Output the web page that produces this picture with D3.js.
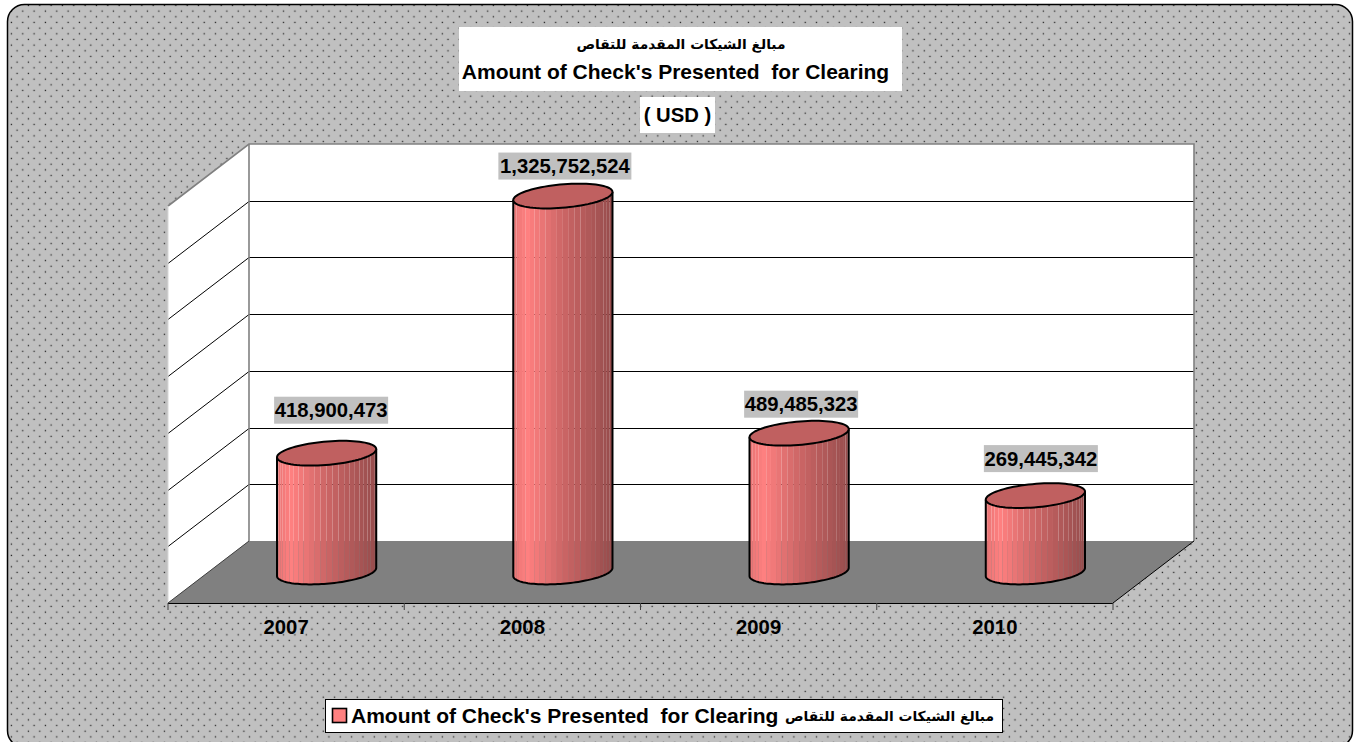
<!DOCTYPE html>
<html>
<head>
<meta charset="utf-8">
<script src="https://cdn.jsdelivr.net/npm/d3@7"></script>
<style>
html, body { margin: 0; padding: 0; background: #fff; overflow: hidden; }
svg { display: block; }
text { font-family: "Liberation Sans", Arial, sans-serif; font-weight: bold; fill: #000; }
.ar { font-family: "DejaVu Sans", sans-serif; }
</style>
</head>
<body>
<div id="chart"></div>
<script>
const years = ["2007", "2008", "2009", "2010"];
const amounts = [418900473, 1325752524, 489485323, 269445342];
const yTicks = [0, 200000000, 400000000, 600000000, 800000000, 1000000000, 1200000000, 1400000000];
const titleAr = "مبالغ الشيكات المقدمة للتقاص";
const titleEn = "Amount of Check's Presented  for Clearing";
const unit = "( USD )";

// labels were dragged by hand in the original, so they sit off the default spot
const labelNudge = [[4.5, -43], [2, -30], [2, -29], [5.5, -37]];

let width = 1362, height = 742;
let plot = {left: 168, right: 1113, top: 206, bottom: 603};
let depth = {x: 81, y: -62};
let barDepth = 0.2;

let svg = d3.select("#chart")
    .append("svg")
        .attr("width", width)
        .attr("height", height);

let defs = svg.append("defs");
let dots = defs.append("pattern")
    .attr("id", "dots")
    .attr("patternUnits", "userSpaceOnUse")
    .attr("x", 2.5).attr("y", 2.2)
    .attr("width", 11.34)
    .attr("height", 11.34);
dots.append("rect").attr("width", 11.34).attr("height", 11.34).attr("fill", "#c0c0c0");
dots.append("rect").attr("x", 2.6).attr("y", 2.6).attr("width", 1.3).attr("height", 1.3).attr("fill", "#282828");
dots.append("rect").attr("x", 8.27).attr("y", 8.27).attr("width", 1.3).attr("height", 1.3).attr("fill", "#282828");

svg.append("rect")
    .attr("x", 7.5).attr("y", 4.5)
    .attr("width", 1345).attr("height", 743)
    .attr("rx", 17).attr("ry", 17)
    .attr("fill", "url(#dots)")
    .attr("stroke", "#000")
    .attr("stroke-width", 1.5);

let x = d3.scaleBand()
    .domain(years)
    .range([plot.left, plot.right])
    .paddingInner(0.603)
    .paddingOuter(0.3015);

let y = d3.scaleLinear()
    .domain([0, 1400000000])
    .range([plot.bottom, plot.top]);

let poly = pts => d3.line()(pts) + "Z";
let x0 = plot.left, x1 = plot.right, yb = plot.bottom, yt = plot.top;

// side wall, back wall, floor
svg.append("path")
    .attr("d", poly([[x0, yb], [x0, yt], [x0 + depth.x, yt + depth.y], [x0 + depth.x, yb + depth.y]]))
    .attr("fill", "#fff");
svg.append("path")
    .attr("d", poly([[x0 + depth.x, yb + depth.y], [x0 + depth.x, yt + depth.y], [x1 + depth.x, yt + depth.y], [x1 + depth.x, yb + depth.y]]))
    .attr("fill", "#fff");

let grid = svg.append("g");
yTicks.slice(1, -1).forEach(t => {
    let gy = Math.round(y(t) + depth.y) + 0.5;
    grid.append("path")
        .attr("d", d3.line()([[x0, gy - depth.y], [x0 + depth.x, gy], [x1 + depth.x, gy]]))
        .attr("fill", "none")
        .attr("stroke", "#000")
        .attr("stroke-width", 1);
});

svg.append("path")
    .attr("d", d3.line()([[x0, yt], [x0 + depth.x, yt + depth.y], [x1 + depth.x, yt + depth.y], [x1 + depth.x, yb + depth.y]]))
    .attr("fill", "none")
    .attr("stroke", "#808080")
    .attr("stroke-width", 1.6);
svg.append("line")
    .attr("x1", x0 + depth.x).attr("x2", x0 + depth.x)
    .attr("y1", yt + depth.y).attr("y2", yb + depth.y)
    .attr("stroke", "#808080")
    .attr("stroke-width", 1.6);
svg.append("line")
    .attr("x1", x0).attr("x2", x0)
    .attr("y1", yt).attr("y2", yb)
    .attr("stroke", "#d8d8d8")
    .attr("stroke-width", 1);

svg.append("path")
    .attr("d", poly([[x0, yb], [x0 + depth.x, yb + depth.y], [x1 + depth.x, yb + depth.y], [x1, yb]]))
    .attr("fill", "#808080");
svg.append("path")
    .attr("d", d3.line()([[x0, yb], [x0 + depth.x, yb + depth.y]]))
    .attr("stroke", "#404040")
    .attr("stroke-width", 1);
svg.append("path")
    .attr("d", d3.line()([[x1, yb], [x1 + depth.x, yb + depth.y]]))
    .attr("stroke", "#000")
    .attr("stroke-width", 1);

// cylinders
let shade = d3.scaleLinear()
    .domain([0, 0.14, 0.5, 1])
    .range(["#e87474", "#ff8080", "#cc6666", "#964c4c"]);
let topFill = "#c06060";
let stripCount = 26;

let dx = depth.x * barDepth, dy = depth.y * barDepth;
let a = x.bandwidth() / 2;
let t0 = Math.atan2(dx, a);
let lineGen = d3.line();

function rim(cx, cy, t) {
    return [cx + a * Math.cos(t) + dx * Math.sin(t), cy + dy * Math.sin(t)];
}
function arc(cx, cy, from, to, n) {
    return d3.range(n + 1).map(i => rim(cx, cy, from + (to - from) * i / n));
}

let bars = svg.append("g");
years.forEach((yr, i) => {
    let cx = x(yr) + a + depth.x / 2;
    let cyBase = y(0) + depth.y / 2;
    let cyTop = y(amounts[i]) + depth.y / 2;
    let g = bars.append("g");

    d3.range(stripCount).forEach(k => {
        let from = t0 - Math.PI + Math.PI * k / stripCount;
        let to = t0 - Math.PI + Math.PI * (k + 1) / stripCount;
        let low = arc(cx, cyBase, from, to, 4);
        let high = arc(cx, cyTop, to, from, 4);
        let mid = rim(cx, cyBase, (from + to) / 2)[0];
        let left = cx - Math.hypot(a, dx);
        g.append("path")
            .attr("d", poly(low.concat(high)))
            .attr("fill", shade((mid - left) / (2 * Math.hypot(a, dx))));
    });

    let outline = [rim(cx, cyTop, t0 - Math.PI)]
        .concat(arc(cx, cyBase, t0 - Math.PI, t0, 60))
        .concat([rim(cx, cyTop, t0)]);
    g.append("path")
        .attr("d", lineGen(outline))
        .attr("fill", "none")
        .attr("stroke", "#000")
        .attr("stroke-width", 2);
    g.append("path")
        .attr("d", poly(arc(cx, cyTop, 0, 2 * Math.PI, 80)))
        .attr("fill", topFill)
        .attr("stroke", "#000")
        .attr("stroke-width", 2);
});

// x axis: labels from the band scale, ticks on the band edges
svg.append("line")
    .attr("x1", x0).attr("x2", x1)
    .attr("y1", yb + 0.5).attr("y2", yb + 0.5)
    .attr("stroke", "#000");
let edges = d3.range(years.length + 1).map(i => x0 + i * (x1 - x0) / years.length);
svg.selectAll(".edge")
    .data(edges)
    .join("line")
    .attr("x1", d => d).attr("x2", d => d)
    .attr("y1", yb).attr("y2", yb + 7)
    .attr("stroke", "#404040");

let xAxis = svg.append("g")
    .attr("transform", `translate(0,${yb})`)
    .call(d3.axisBottom(x).tickSize(0).tickPadding(17));
xAxis.select(".domain").remove();
xAxis.selectAll("text")
    .style("font-family", '"Liberation Sans", Arial, sans-serif')
    .style("font-weight", "bold")
    .style("font-size", "20.3px");

// data labels
let fmt = d3.format(",");
years.forEach((yr, i) => {
    let cx = x(yr) + a + depth.x / 2 + labelNudge[i][0];
    let cy = y(amounts[i]) + depth.y / 2 + labelNudge[i][1];
    let label = fmt(amounts[i]);
    let w = label.length > 11 ? 133 : 114;
    svg.append("rect")
        .attr("x", cx - w / 2).attr("y", cy - 13.5)
        .attr("width", w).attr("height", 27)
        .attr("fill", "#c0c0c0");
    svg.append("text")
        .attr("x", cx).attr("y", cy + 7)
        .attr("text-anchor", "middle")
        .attr("font-size", 20.3)
        .text(label);
});

// titles
svg.append("rect").attr("x", 459).attr("y", 27).attr("width", 443).attr("height", 64).attr("fill", "#fff");
svg.append("rect").attr("x", 640).attr("y", 97).attr("width", 75).attr("height", 36).attr("fill", "#fff");
svg.append("text").attr("class", "ar")
    .attr("x", 681).attr("y", 49)
    .attr("text-anchor", "middle").attr("font-size", 13.8)
    .attr("direction", "rtl").style("unicode-bidi", "plaintext")
    .text(titleAr);
svg.append("text")
    .attr("x", 675.5).attr("y", 79)
    .attr("text-anchor", "middle").attr("font-size", 21)
    .style("white-space", "pre")
    .text(titleEn);
svg.append("text")
    .attr("x", 677.5).attr("y", 122)
    .attr("text-anchor", "middle").attr("font-size", 20.3)
    .text(unit);

// legend
svg.append("rect")
    .attr("x", 325.5).attr("y", 699.5).attr("width", 677).attr("height", 33)
    .attr("fill", "#fff").attr("stroke", "#000").attr("stroke-width", 1);
svg.append("rect")
    .attr("x", 332.5).attr("y", 708.5).attr("width", 14).attr("height", 14)
    .attr("fill", "#ff8080").attr("stroke", "#000").attr("stroke-width", 1.6);
svg.append("text")
    .attr("x", 351).attr("y", 723)
    .attr("font-size", 21)
    .style("white-space", "pre")
    .text(titleEn);
svg.append("text").attr("class", "ar")
    .attr("x", 994).attr("y", 721)
    .attr("text-anchor", "start").attr("font-size", 13.8)
    .attr("direction", "rtl").style("unicode-bidi", "plaintext")
    .text(titleAr);
</script>
</body>
</html>
